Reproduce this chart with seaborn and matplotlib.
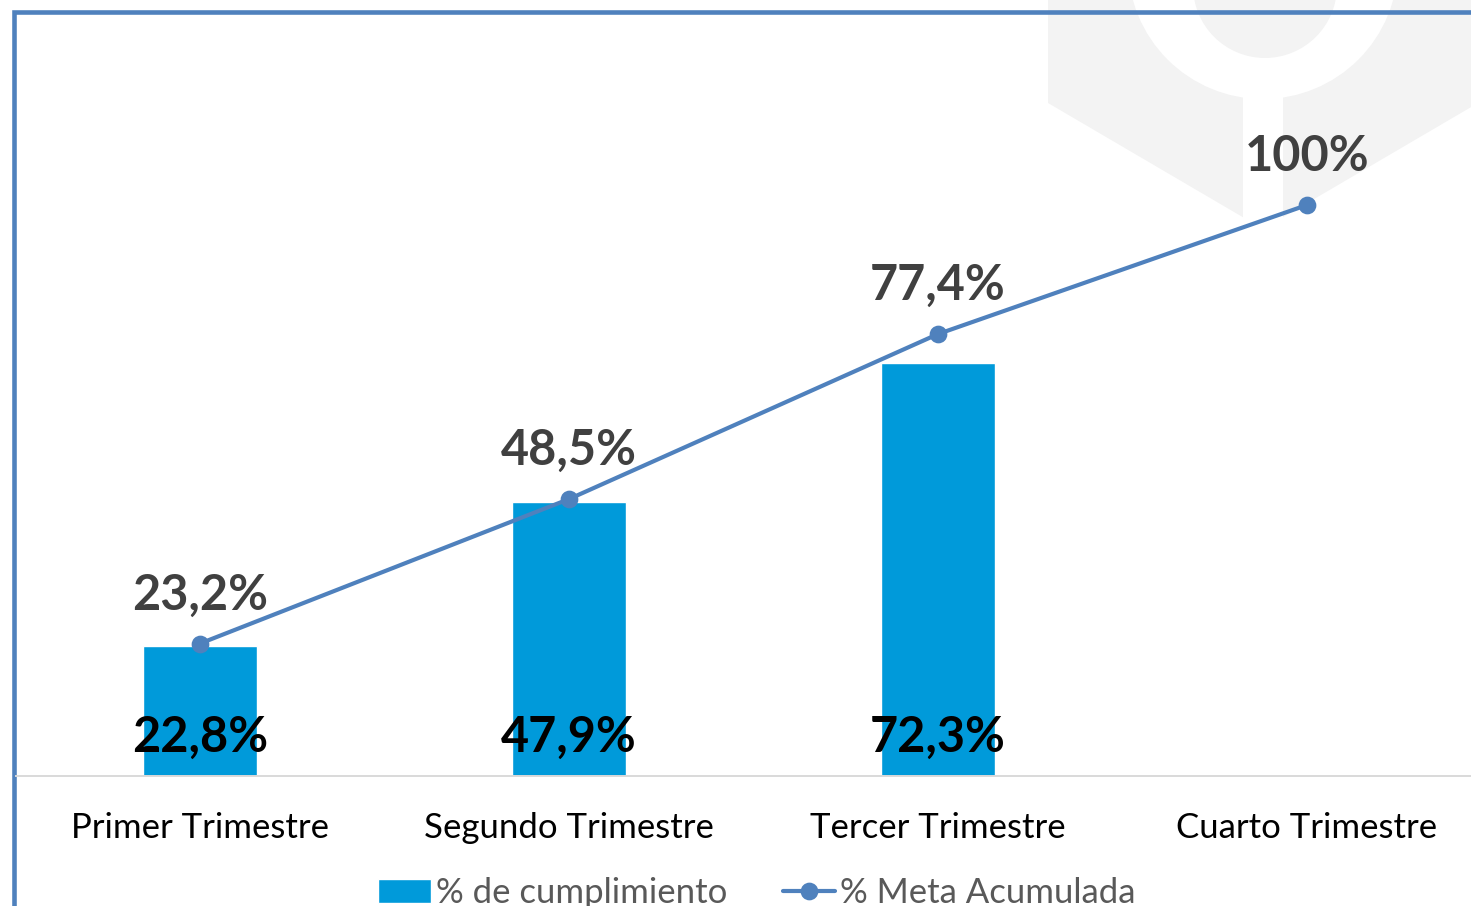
import numpy as np
import pandas as pd
import matplotlib
matplotlib.use("Agg")
import matplotlib.pyplot as plt
from matplotlib.patches import Circle, Polygon, Rectangle
import seaborn as sns

# data
trimestres = ["Primer Trimestre", "Segundo Trimestre", "Tercer Trimestre", "Cuarto Trimestre"]
cumplimiento = [22.8, 47.9, 72.3, np.nan]
meta_acumulada = [23.2, 48.5, 77.4, 100.0]
etiquetas_cumpl = ["22,8%", "47,9%", "72,3%", ""]
etiquetas_meta = ["23,2%", "48,5%", "77,4%", "100%"]

BAR_COLOR = "#009ADA"
LINE_COLOR = "#4F81BD"
FRAME_COLOR = "#4F81BD"
WM_COLOR = "#F3F3F3"

sns.set_style("white")
plt.rcParams["font.family"] = ["Lato", "DejaVu Sans"]

W, H = 1471, 906
fig = plt.figure(figsize=(W / 100, H / 100), dpi=100)

# background layer in pixel coordinates: watermark and chart frame
bg = fig.add_axes([0, 0, 1, 1], zorder=0)
bg.set_xlim(0, W)
bg.set_ylim(H, 0)
bg.axis("off")
bg.add_patch(Polygon([(1048, -10), (1048, 103), (1263, 229), (1490, 96), (1490, -10)],
                     closed=True, facecolor=WM_COLOR, edgecolor="none"))
bg.add_patch(Circle((1263, -36), 135, facecolor="white", edgecolor="none"))
bg.add_patch(Rectangle((1243, 90), 40, 150, facecolor="white", edgecolor="none"))
bg.add_patch(Circle((1265, -14), 72, facecolor=WM_COLOR, edgecolor="none"))
bg.plot([14, 14, 1490], [H + 20, 11.5, 11.5], color=FRAME_COLOR, lw=3.3,
        solid_joinstyle="miter")

# main plot area: category spacing 369 px, zero line at y=776, 571 px per 100 %
px_unit = 571.0
ymax = 125.0
left_px = 200 - 369 / 2
ax = fig.add_axes([left_px / W, (H - 776) / H, 4 * 369 / W, ymax * px_unit / 100 / H], zorder=1)
ax.patch.set_alpha(0)

df = pd.DataFrame({"trimestre": trimestres,
                   "cumplimiento": cumplimiento,
                   "meta": meta_acumulada})

sns.barplot(data=df, x="trimestre", y="cumplimiento", color=BAR_COLOR, width=0.31,
            saturation=1, label="% de cumplimiento", ax=ax)
sns.pointplot(data=df, x="trimestre", y="meta", color=LINE_COLOR, markers="o",
              linestyles="-", errorbar=None, label="% Meta Acumulada",
              markersize=10.5, linewidth=3, ax=ax)
if ax.get_legend() is not None:
    ax.get_legend().remove()

ax.set_xlim(-0.5, 3.5)
ax.set_ylim(0, ymax)
ax.set_xlabel("")
ax.set_ylabel("")
ax.set_yticks([])
for side in ["top", "left", "right"]:
    ax.spines[side].set_visible(False)
ax.spines["bottom"].set_color("#D9D9D9")
ax.spines["bottom"].set_linewidth(1.4)
ax.tick_params(axis="x", length=0, pad=26, labelsize=25, labelcolor="black")

# labels
for i, (v, t) in enumerate(zip(meta_acumulada, etiquetas_meta)):
    ax.annotate(t, (i, v), xytext=(0, 35), textcoords="offset points",
                ha="center", va="center", fontsize=35, fontweight="bold", color="#404040")
for i, (v, t) in enumerate(zip(cumplimiento, etiquetas_cumpl)):
    if t:
        ax.annotate(t, (i, 0), xytext=(0, 28), textcoords="offset points",
                    ha="center", va="center", fontsize=35, fontweight="bold", color="black")

handles, labels = ax.get_legend_handles_labels()
order = [labels.index("% de cumplimiento"), labels.index("% Meta Acumulada")]
leg = fig.legend([handles[k] for k in order], [labels[k] for k in order],
                 loc="center", bbox_to_anchor=(757 / W, (H - 893) / H),
                 ncol=2, frameon=False, fontsize=25, handlelength=1.5,
                 handletextpad=0.15, columnspacing=1.6, labelcolor="#595959")

fig.savefig("out.png", dpi=100)
